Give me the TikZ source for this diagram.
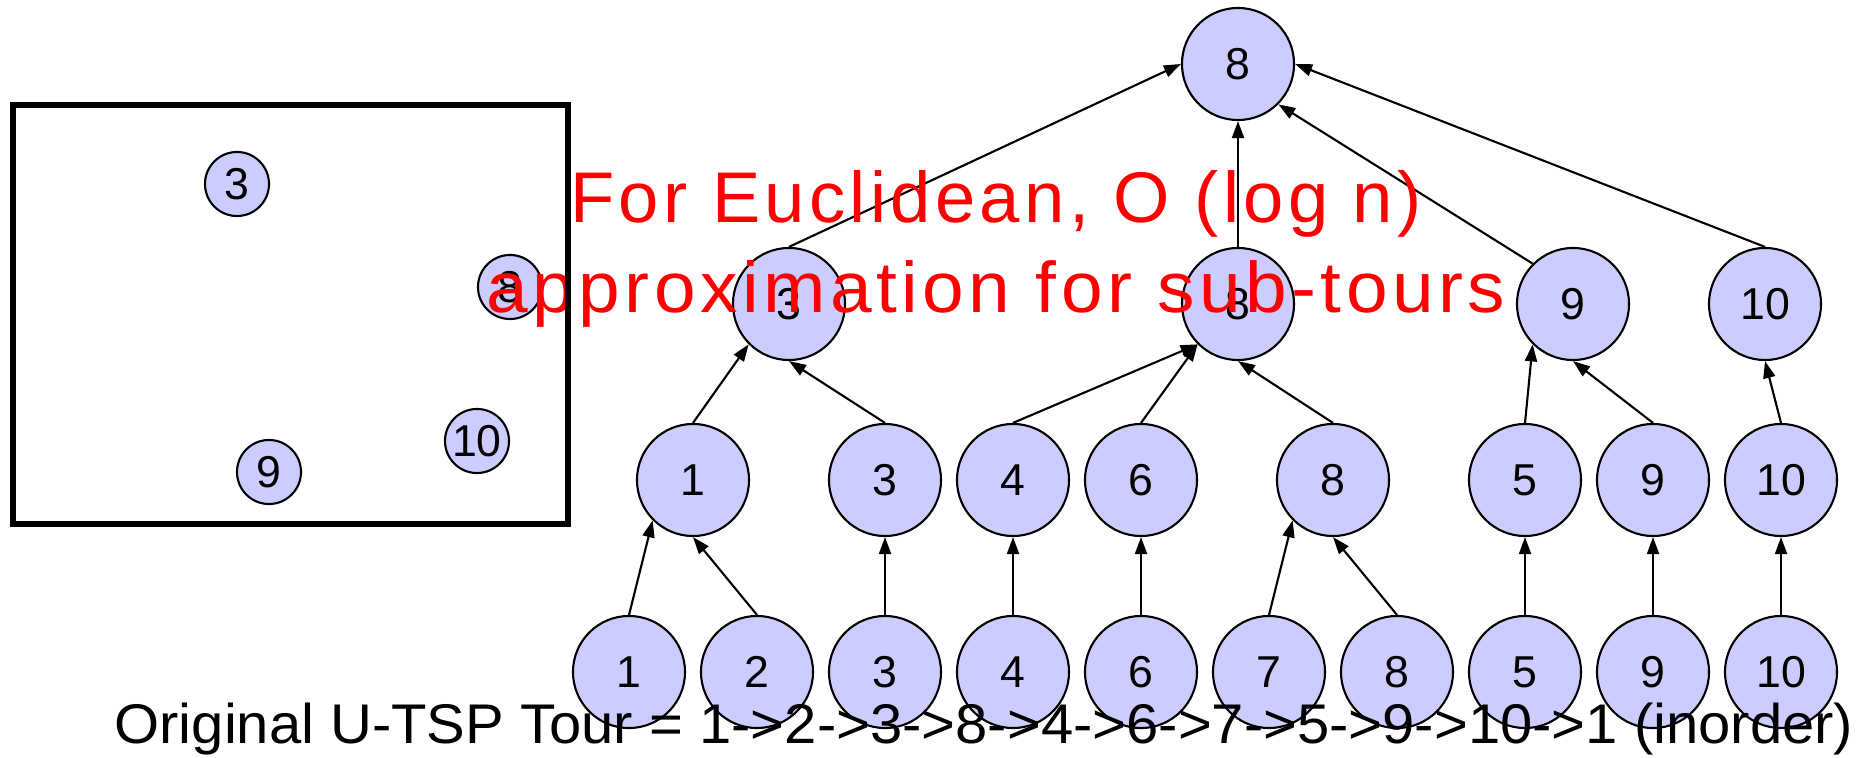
\documentclass[tikz,border=0pt]{standalone}
\usepackage{fontspec}
\usepackage{xcolor}
\usepackage{graphicx}
\usepackage{tikz}
\usetikzlibrary{arrows.meta}
\setmainfont{Liberation Sans}
\newfontfamily\spacedfont[LetterSpace=6]{Liberation Sans}
\definecolor{nodefill}{HTML}{CCCCFF}
\tikzset{
  tnode/.style={circle,draw=black,fill=nodefill,line width=0.6pt,minimum size=1.12cm,inner sep=0pt,font=\fontsize{12.7pt}{14pt}\selectfont},
  pnode/.style={circle,draw=black,fill=nodefill,line width=0.6pt,minimum size=0.64cm,inner sep=0pt,font=\fontsize{12.7pt}{14pt}\selectfont},
  edge/.style={draw=black,line width=0.6pt,-{Triangle[length=0.17cm,width=0.12cm]}},
  note/.style={anchor=base,inner sep=0pt,text=red,font=\spacedfont\fontsize{20.4pt}{24pt}\selectfont}
}

\begin{document}
\begin{tikzpicture}[x=0.01cm,y=-0.01cm]
  \useasboundingbox (0,0) rectangle (1870,758);
  \node[tnode] (root) at (1238,64) {8};
  \node[tnode] (s3) at (789,304) {3};
  \node[tnode] (s8) at (1238,304) {8};
  \node[tnode] (s9) at (1573,304) {9};
  \node[tnode] (s10) at (1765,304) {10};
  \node[tnode] (m1) at (693,480) {1};
  \node[tnode] (m3) at (885,480) {3};
  \node[tnode] (m4) at (1013,480) {4};
  \node[tnode] (m6) at (1141,480) {6};
  \node[tnode] (m8) at (1333,480) {8};
  \node[tnode] (m5) at (1525,480) {5};
  \node[tnode] (m9) at (1653,480) {9};
  \node[tnode] (m10) at (1781,480) {10};
  \node[tnode] (l1) at (629,672) {1};
  \node[tnode] (l2) at (757,672) {2};
  \node[tnode] (l3) at (885,672) {3};
  \node[tnode] (l4) at (1013,672) {4};
  \node[tnode] (l6) at (1141,672) {6};
  \node[tnode] (l7) at (1269,672) {7};
  \node[tnode] (l8) at (1397,672) {8};
  \node[tnode] (l5) at (1525,672) {5};
  \node[tnode] (l9) at (1653,672) {9};
  \node[tnode] (l10) at (1781,672) {10};
  \draw[edge] (s3.north) -- (root.west);
  \draw[edge] (s8.north) -- (root.south);
  \draw[edge] (s9.north west) -- (root.south east);
  \draw[edge] (s10.north) -- (root.east);
  \draw[edge] (m1.north) -- (s3.225);
  \draw[edge] (m3.north) -- (s3.south);
  \draw[edge] (m4.north) -- (s8.225);
  \draw[edge] (m6.north) -- (s8.225);
  \draw[edge] (m8.north) -- (s8.south);
  \draw[edge] (m5.north) -- (s9.225);
  \draw[edge] (m9.north) -- (s9.south);
  \draw[edge] (m10.north) -- (s10.south);
  \draw[edge] (l1.north) -- (m1.225);
  \draw[edge] (l2.north) -- (m1.south);
  \draw[edge] (l3.north) -- (m3.south);
  \draw[edge] (l4.north) -- (m4.south);
  \draw[edge] (l6.north) -- (m6.south);
  \draw[edge] (l7.north) -- (m8.225);
  \draw[edge] (l8.north) -- (m8.south);
  \draw[edge] (l5.north) -- (m5.south);
  \draw[edge] (l9.north) -- (m9.south);
  \draw[edge] (l10.north) -- (m10.south);
  \node[pnode] (p3) at (237,184) {3};
  \node[pnode] (p8) at (510,287) {8};
  \node[pnode] (p10) at (477,441) {10};
  \node[pnode] (p9) at (269,472) {9};
  \node[note] (note1) at (996,223) {\resizebox{8.51cm}{\height}{For Euclidean, O (log n)}};
  \node[note] (note2) at (996,313) {\resizebox{10.18cm}{\height}{approximation for sub-tours}};
  \draw[black,line width=1.7pt] (13,105) rectangle (568,524);
  \node[anchor=base,inner sep=0pt,font=\fontsize{15.9pt}{19pt}\selectfont] (tour) at (984,743) {\resizebox{17.38cm}{\height}{Original U-TSP Tour = 1->2->3->8->4->6->7->5->9->10->1 (inorder)}};
\end{tikzpicture}
\end{document}
